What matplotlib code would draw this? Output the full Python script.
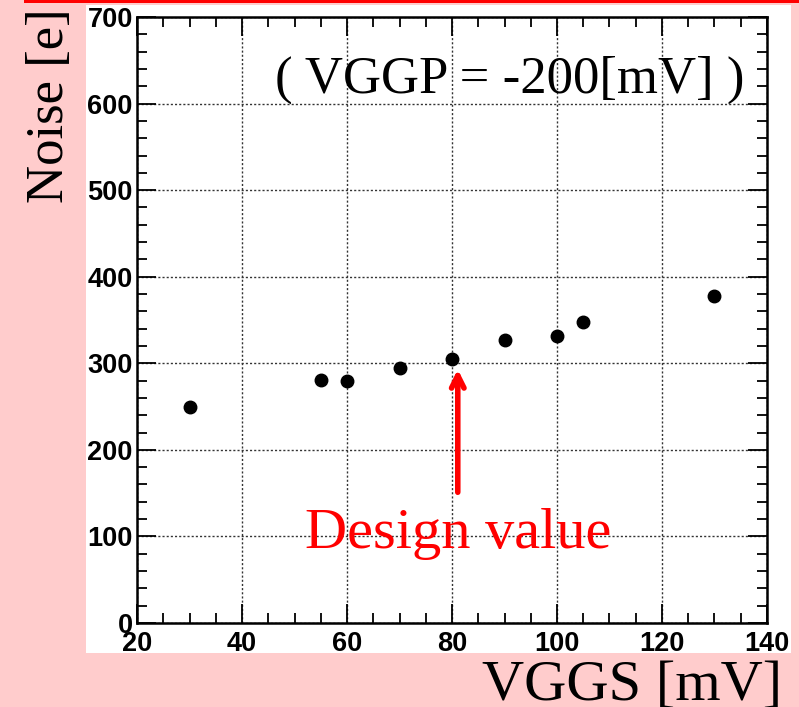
import matplotlib
matplotlib.use("Agg")
import matplotlib.pyplot as plt
from matplotlib.patches import Rectangle
from matplotlib.ticker import MultipleLocator

# data
vggs = [30, 55, 60, 70, 80, 90, 100, 105, 130]
noise = [250, 281, 280, 294, 305, 327, 331, 348, 378]

design_x = 81.1
title_txt = "( VGGP = -200[mV] )"
xlab = "VGGS [mV]"
ylab = "Noise [e]"

W, H = 799, 707
fig = plt.figure(figsize=(W / 100, H / 100), dpi=100)
fig.patch.set_facecolor("#ffcccc")

def px_rect(x0, y0, x1, y1, color):
    fig.patches.append(Rectangle((x0 / W, 1 - y1 / H), (x1 - x0) / W, (y1 - y0) / H,
                                 transform=fig.transFigure, color=color, zorder=-10, lw=0))

px_rect(86, 5, 791, 653, "white")
px_rect(24, 0, 799, 3, "red")

ax = fig.add_axes([137 / W, 1 - 623 / H, (767 - 137) / W, (623 - 17) / H])
ax.set_facecolor("white")
ax.plot(vggs, noise, "o", color="black", markersize=9, zorder=3)

ax.set_xlim(20, 140)
ax.set_ylim(0, 700)
ax.xaxis.set_major_locator(MultipleLocator(20))
ax.xaxis.set_minor_locator(MultipleLocator(5))
ax.yaxis.set_major_locator(MultipleLocator(100))
ax.yaxis.set_minor_locator(MultipleLocator(20))
ax.grid(True, which="major", linestyle=(0, (1.5, 1.5)), color="#333333", lw=1)
ax.tick_params(which="both", direction="in", top=True, right=True, width=1.3)
ax.tick_params(which="major", length=14, labelsize=19.5)
ax.tick_params(axis="x", which="major", pad=6)
ax.tick_params(axis="y", which="major", pad=3)
ax.tick_params(which="minor", length=7)
for s in ax.spines.values():
    s.set_linewidth(1.8)
for lab in ax.get_xticklabels() + ax.get_yticklabels():
    lab.set_fontfamily("Liberation Sans")
    lab.set_fontweight("bold")

ax.text(46.3, 612, title_txt, fontsize=38, family="Liberation Serif",
        ha="left", va="baseline")
ax.annotate("", xy=(design_x, 293), xytext=(design_x, 151),
            arrowprops=dict(arrowstyle="->,head_length=0.9,head_width=0.45",
                            color="red", lw=4, shrinkA=0, shrinkB=0))
ax.text(design_x, 86.6, "Design value", fontsize=42, color="red",
        family="Liberation Serif", ha="center", va="baseline")

fig.text(782 / W, 1 - 700 / H, xlab, fontsize=42, family="Liberation Serif",
         ha="right", va="baseline")
fig.text(50 / W, 1 - 8 / H, ylab, fontsize=38, family="Liberation Serif",
         rotation=90, ha="center", va="top")

fig.savefig("out.png", dpi=100, facecolor=fig.get_facecolor())
